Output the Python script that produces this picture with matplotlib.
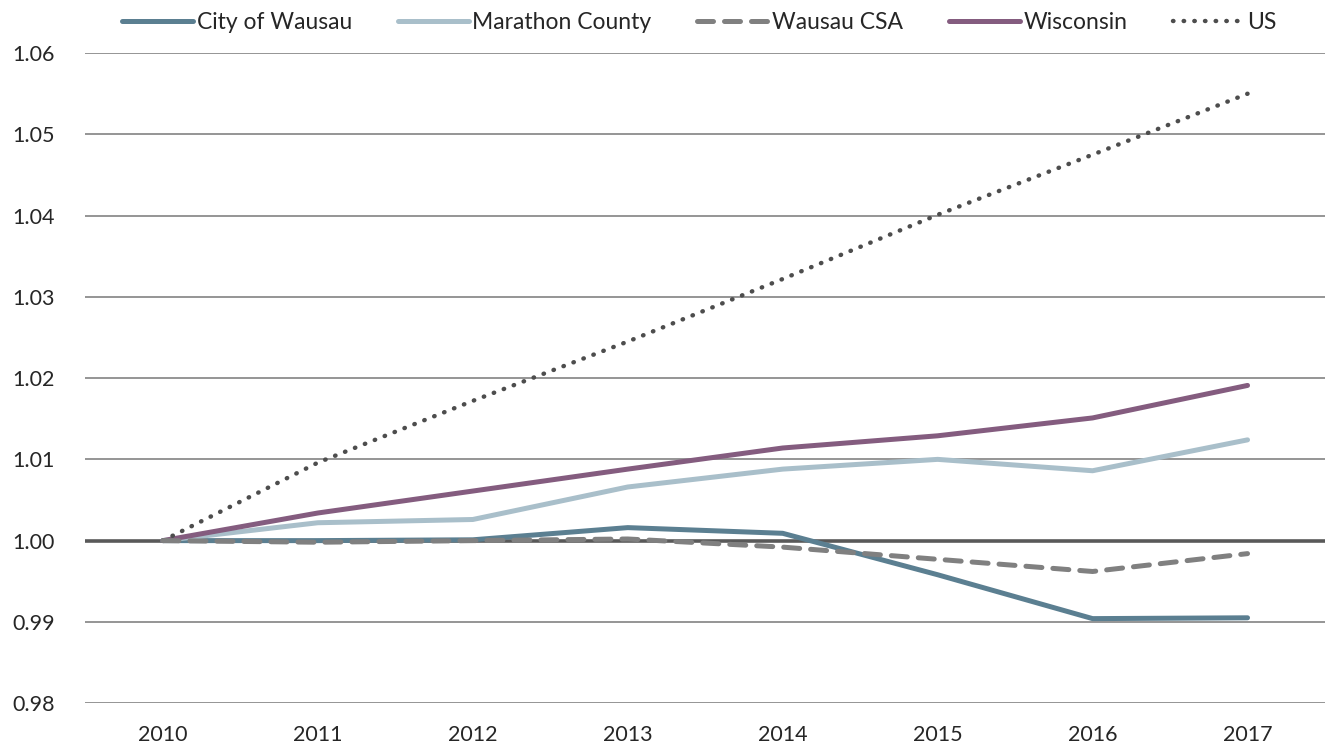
import numpy as np
import matplotlib.pyplot as plt

plt.rcParams['font.family'] = ['Lato', 'DejaVu Sans']

years = ['2010', '2011', '2012', '2013', '2014', '2015', '2016', '2017']
wausau = [1.0000, 1.0000, 1.0001, 1.0016, 1.0009, 0.9958, 0.9904, 0.9905]
marathon = [1.0000, 1.0022, 1.0026, 1.0066, 1.0088, 1.0100, 1.0086, 1.0124]
csa = [1.0000, 0.9998, 1.0000, 1.0002, 0.9992, 0.9977, 0.9962, 0.9984]
wisconsin = [1.0000, 1.0034, 1.0061, 1.0088, 1.0114, 1.0129, 1.0151, 1.0191]
us = [1.0000, 1.0096, 1.0172, 1.0245, 1.0322, 1.0401, 1.0475, 1.0550]

fig = plt.figure(figsize=(13.25, 7.48), dpi=100)
ax = fig.add_axes([0.0645, 0.06, 0.9355, 0.869])

x = np.arange(len(years))

for yv in np.arange(0.98, 1.061, 0.01):
    if abs(yv - 1.0) < 1e-6:
        ax.axhline(yv, color='#595959', lw=2.6, zorder=1)
    else:
        ax.axhline(yv, color='#8c8c8c', lw=1.3, zorder=1)

ax.plot(x, wausau, color='#5b7f91', lw=3.6, solid_capstyle='round', label='City of Wausau', zorder=3)
ax.plot(x, marathon, color='#a9bfca', lw=3.6, solid_capstyle='round', label='Marathon County', zorder=3)
ax.plot(x, csa, color='#808080', lw=3.6, dashes=(3.2, 2.2), dash_capstyle='round', label='Wausau CSA', zorder=4)
ax.plot(x, wisconsin, color='#845c7f', lw=3.6, solid_capstyle='round', label='Wisconsin', zorder=3)
ax.plot(x, us, color='#4d4d4d', lw=3.2, linestyle=(0, (0.1, 2.3)), dash_capstyle='round', label='US', zorder=3)

ax.set_xlim(-0.5, 7.5)
ax.set_ylim(0.98, 1.06)
ax.set_yticks(np.arange(0.98, 1.061, 0.01))
ax.set_yticklabels(['%.2f' % v for v in np.arange(0.98, 1.061, 0.01)])
ax.set_xticks(x)
ax.set_xticklabels(years)
ax.tick_params(axis='both', length=0, labelsize=15.5, labelcolor='#262626')
ax.tick_params(axis='y', pad=22)
ax.tick_params(axis='x', pad=16)
for s in ax.spines.values():
    s.set_visible(False)

fig.legend(loc='upper center', bbox_to_anchor=(0.528, 1.012), ncol=5, frameon=False,
           fontsize=16.5, handlelength=3.1, handletextpad=0.15, columnspacing=2.0,
           labelcolor='#262626')

fig.savefig('out.png', dpi=100)
